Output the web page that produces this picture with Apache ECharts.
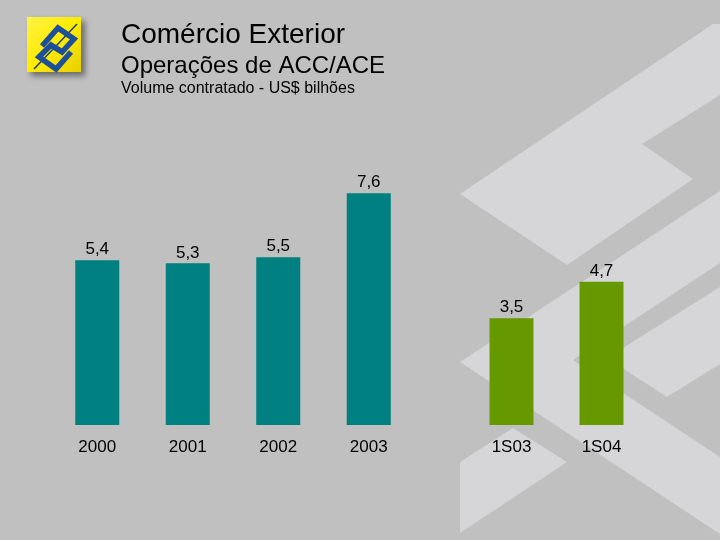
<!DOCTYPE html>
<html>
<head>
<meta charset="utf-8">
<script src="https://cdn.jsdelivr.net/npm/echarts@6/dist/echarts.min.js"></script>
<style>html,body{margin:0;padding:0;background:#c0c0c0;}#c{width:720px;height:540px;}</style>
</head>
<body>
<div id="c"></div>
<script>
// Data
const yearCategories = ['2000', '2001', '2002', '2003'];
const yearValues = [5.4, 5.3, 5.5, 7.6];
const semCategories = ['1S03', '1S04'];
const semValues = [3.5, 4.7];
const titleText = 'Comércio Exterior';
const subtitleText = 'Operações de ACC/ACE';
const unitText = 'Volume contratado - US$ bilhões';

const FONT = '"Liberation Sans", Arial, sans-serif';
const fmt = v => String(v).replace('.', ',');

const chart = echarts.init(document.getElementById('c'), null, {renderer: 'canvas'});

const bg = '#c0c0c0';
const light = '#d6d6d8';
const blue = '#1d4f9a';

const option = {
  backgroundColor: bg,
  animation: false,
  textStyle: {fontFamily: FONT},
  grid: [
    {left: 52, width: 362, top: 120, bottom: 115},
    {left: 466.5, width: 180, top: 120, bottom: 115}
  ],
  xAxis: [
    {type: 'category', gridIndex: 0, data: yearCategories,
     axisLine: {show: false}, axisTick: {show: false},
     axisLabel: {color: '#000', fontSize: 17, fontFamily: FONT, margin: 14}},
    {type: 'category', gridIndex: 1, data: semCategories,
     axisLine: {show: false}, axisTick: {show: false},
     axisLabel: {color: '#000', fontSize: 17, fontFamily: FONT, margin: 14}}
  ],
  yAxis: [
    {type: 'value', gridIndex: 0, min: 0, max: 10, show: false, splitLine: {show: false}},
    {type: 'value', gridIndex: 1, min: 0, max: 10, show: false, splitLine: {show: false}}
  ],
  series: [
    {type: 'bar', xAxisIndex: 0, yAxisIndex: 0, data: yearValues, barWidth: 44,
     itemStyle: {color: '#008080'},
     label: {show: true, position: 'top', distance: 2, color: '#000', fontSize: 17, fontFamily: FONT,
             formatter: p => fmt(p.value)}},
    {type: 'bar', xAxisIndex: 1, yAxisIndex: 1, data: semValues, barWidth: 44,
     itemStyle: {color: '#669900'},
     label: {show: true, position: 'top', distance: 2, color: '#000', fontSize: 17, fontFamily: FONT,
             formatter: p => fmt(p.value)}}
  ],
  graphic: [
    // watermark shapes
    {type: 'polygon', z: 0, silent: true,
     shape: {points: [[460,194],[713,24],[720,24],[720,95],[642,144],[693,179],[567,265]]},
     style: {fill: light}},
    {type: 'polygon', z: 0, silent: true,
     shape: {points: [[460,362],[720,191],[720,534]]},
     style: {fill: light}},
    {type: 'polygon', z: 1, silent: true,
     shape: {points: [[573,360],[720,263],[720,287],[607,358],[667,397],[720,364],[720,457]]},
     style: {fill: bg}},
    {type: 'polygon', z: 0, silent: true,
     shape: {points: [[460,462],[513,428],[567,462],[460,533]]},
     style: {fill: light}},
    // logo
    {type: 'rect', z: 5, silent: true,
     shape: {x: 27, y: 17, width: 54, height: 55},
     style: {
       fill: new echarts.graphic.LinearGradient(0, 0, 1, 1, [
         {offset: 0, color: '#fff24a'}, {offset: 0.5, color: '#ffec00'}, {offset: 1, color: '#e8cf00'}]),
       shadowBlur: 6, shadowOffsetX: 4, shadowOffsetY: 4, shadowColor: 'rgba(0,0,0,0.45)'
     }},
    {type: 'line', z: 6, silent: true,
     shape: {x1: 34, y1: 69, x2: 77, y2: 24},
     style: {stroke: '#17407e', lineWidth: 1.5}},
    {type: 'polyline', z: 7, silent: true,
     shape: {points: [[42,46],[58,28],[74,39],[62,52],[52,46]]},
     style: {stroke: blue, lineWidth: 5.5, lineJoin: 'miter'}},
    {type: 'polyline', z: 7, silent: true,
     shape: {points: [[71,52],[56,69],[39,57],[51,45],[61,51]]},
     style: {stroke: blue, lineWidth: 5.5, lineJoin: 'miter'}},
    // titles
    {type: 'text', z: 10, left: 121, top: 21, silent: true,
     style: {text: titleText, fontSize: 28, fontFamily: FONT, fill: '#000'}},
    {type: 'text', z: 10, left: 121, top: 54, silent: true,
     style: {text: subtitleText, fontSize: 24, fontFamily: FONT, fill: '#000'}},
    {type: 'text', z: 10, left: 121, top: 81, silent: true,
     style: {text: unitText, fontSize: 16, fontFamily: FONT, fill: '#000'}}
  ]
};
chart.setOption(option);
</script>
</body>
</html>
